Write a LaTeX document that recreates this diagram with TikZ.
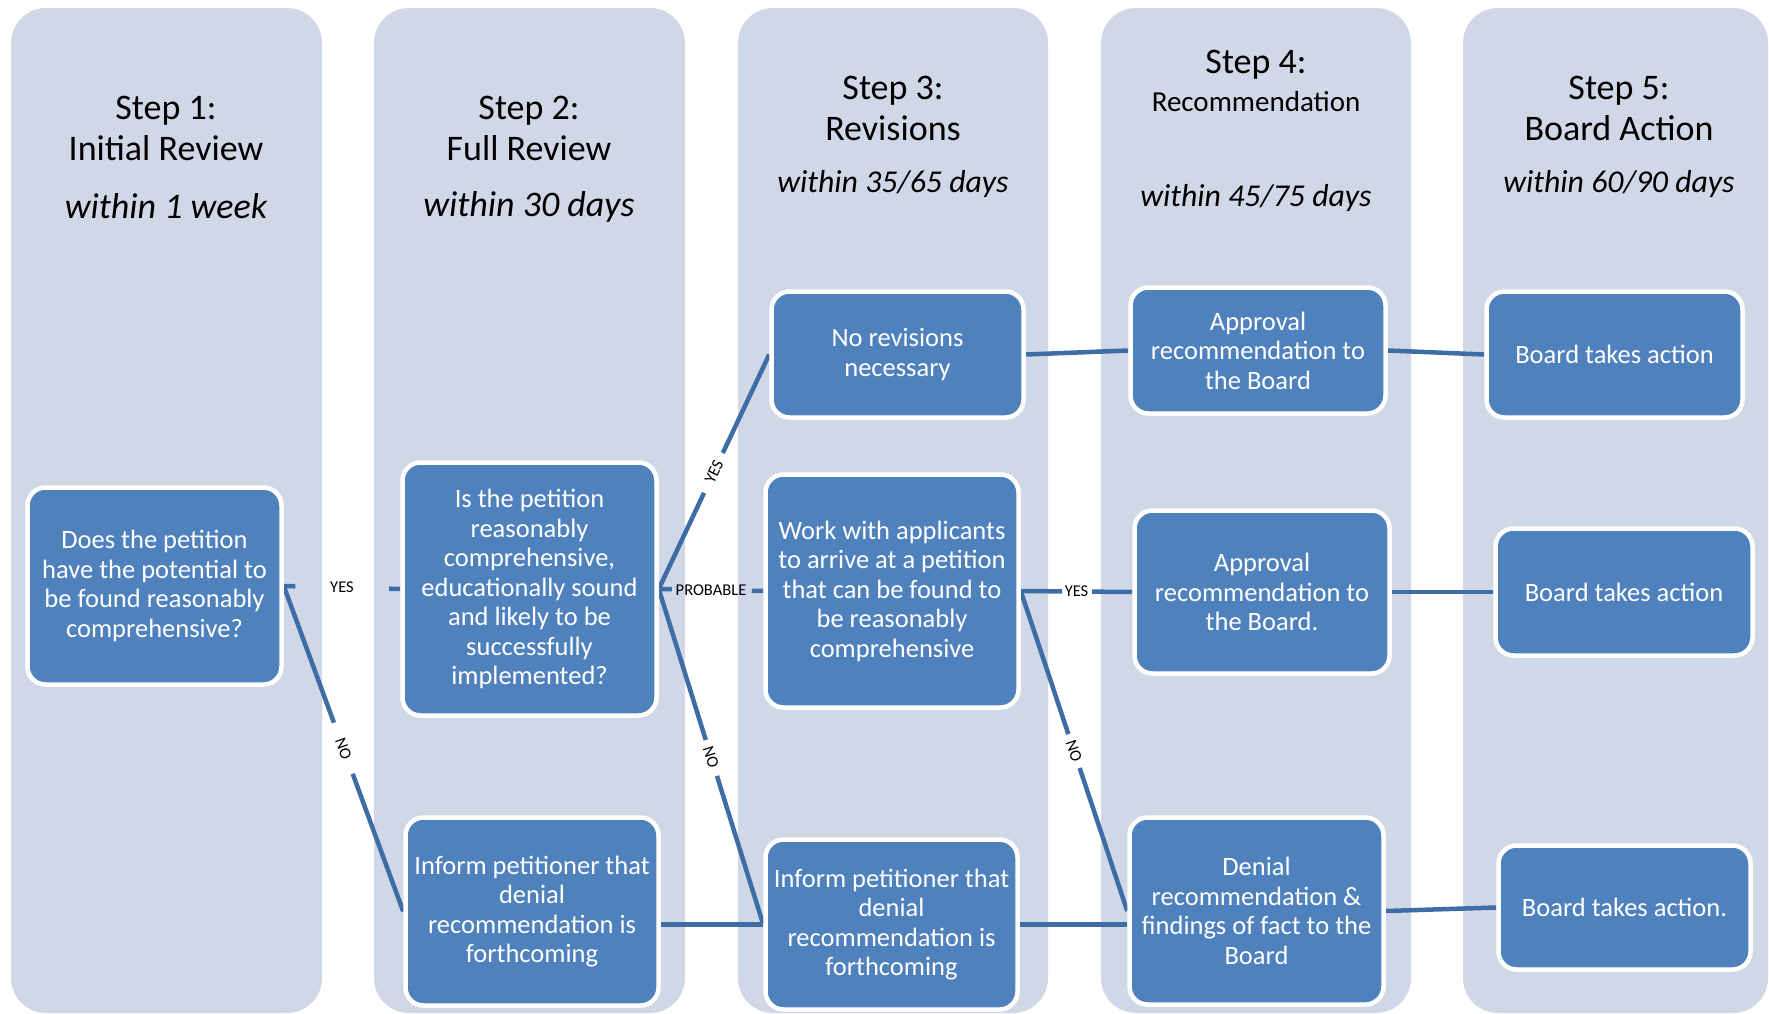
\documentclass[tikz,border=0pt]{standalone}
\usepackage{fontspec}
\setmainfont{Carlito}
\usetikzlibrary{calc}
\definecolor{colbg}{HTML}{D0D8E8}
\definecolor{boxblue}{HTML}{4F81BD}
\definecolor{linkblue}{HTML}{3E6CA5}
\pgfdeclarelayer{cols}
\pgfdeclarelayer{links}
\pgfsetlayers{cols,links,main}
\begin{document}
\begin{tikzpicture}[x=1pt,y=-1pt,
  column/.style={fill=colbg, rounded corners=35pt},
  stage/.style={rectangle, rounded corners=18pt, fill=boxblue, draw=white,
    line width=4.5pt, text=white, align=center, inner sep=0pt,
    font=\fontsize{26.5}{29.5}\selectfont},
  head/.style={align=center, inner sep=0pt, font=\fontsize{36}{41}\selectfont},
  due/.style={inner sep=0pt, font=\fontsize{36}{41}\selectfont\itshape},
  duesmall/.style={inner sep=0pt, font=\fontsize{31.8}{36}\selectfont\itshape},
  link/.style={draw=linkblue, line width=4.5pt},
  tag/.style={inner sep=1pt, font=\fontsize{16.5}{18}\selectfont}]

\useasboundingbox (0,0) rectangle (1769,1014);

% stage columns
\begin{pgfonlayer}{cols}
  \fill[column] (11,8) rectangle (322,1013);
  \fill[column] (374,8) rectangle (685,1013);
  \fill[column] (738,8) rectangle (1048,1013);
  \fill[column] (1101,8) rectangle (1411,1013);
  \fill[column] (1463,8) rectangle (1768,1013);
\end{pgfonlayer}

% column headings
\node[head] (h1) at (166,128) {Step 1:\\Initial Review};
\node[due]  (d1) at (166,206) {within 1 week};
\node[head] (h2) at (529,128) {Step 2:\\Full Review};
\node[due]  (d2) at (529,207) {within 30 days};
\node[head] (h3) at (893,108) {Step 3:\\Revisions};
\node[duesmall] (d3) at (893,184) {within 35/65 days};
\node[head] (h4) at (1256,65) {Step 4:};
\node[inner sep=0pt, font=\fontsize{29}{33}\selectfont] (r4) at (1256,102) {Recommendation};
\node[duesmall] (d4) at (1256,198) {within 45/75 days};
\node[head] (h5) at (1619,108) {Step 5:\\Board Action};
\node[duesmall] (d5) at (1619,184) {within 60/90 days};

% process boxes
\node[stage, minimum width=254, minimum height=197] (b1) at (154.5,586)
  {Does the petition\\have the potential to\\be found reasonably\\comprehensive?};
\node[stage, minimum width=254, minimum height=253] (b2) at (529.5,589)
  {Is the petition\\reasonably\\comprehensive,\\educationally sound\\and likely to be\\successfully\\implemented?};
\node[stage, minimum width=253, minimum height=188] (b3) at (532,911.5)
  {Inform petitioner that\\denial\\recommendation is\\forthcoming};
\node[stage, minimum width=252, minimum height=126] (b4) at (897.5,354.5)
  {No revisions\\necessary};
\node[stage, minimum width=253, minimum height=233] (b5) at (892,591)
  {Work with applicants\\to arrive at a petition\\that can be found to\\be reasonably\\comprehensive};
\node[stage, minimum width=252, minimum height=170] (b6) at (891.5,924.5)
  {Inform petitioner that\\denial\\recommendation is\\forthcoming};
\node[stage, minimum width=255, minimum height=126] (b7) at (1258,350.5)
  {Approval\\recommendation to\\the Board};
\node[stage, minimum width=255, minimum height=163] (b8) at (1262,592)
  {Approval\\recommendation to\\the Board.};
\node[stage, minimum width=254, minimum height=187] (b9) at (1256.5,911)
  {Denial\\recommendation \&\\findings of fact to the\\Board};
\node[stage, minimum width=256, minimum height=126] (b10) at (1614.5,354.5)
  {Board takes action};
\node[stage, minimum width=257, minimum height=127] (b11) at (1624,592)
  {Board takes action};
\node[stage, minimum width=252, minimum height=124] (b12) at (1624.5,907.5)
  {Board takes action.};

% connector labels and the gaps they leave in the lines
\path (b1.east) -- (b2.west) coordinate[pos=0.10] (a1) coordinate[pos=0.905] (a2)
  node[tag, pos=0.5] (t1) {YES};
\path (b1.east) -- (b3.west) coordinate[pos=0.42] (c1) coordinate[pos=0.577] (c2)
  node[tag, sloped, pos=0.5] (t2) {NO};
\path (b2.east) -- (b4.west) coordinate[pos=0.41] (e1) coordinate[pos=0.58] (e2)
  node[tag, sloped, pos=0.5] (t3) {YES};
\path (b2.east) -- (b5.west) coordinate[pos=0.125] (f1) coordinate[pos=0.89] (f2)
  node[tag, pos=0.5] (t4) {PROBABLE};
\path (b2.east) -- (b6.west) coordinate[pos=0.45] (g1) coordinate[pos=0.557] (g2)
  node[tag, sloped, pos=0.5] (t5) {NO};
\path (b5.east) -- (b8.west) coordinate[pos=0.37] (k1) coordinate[pos=0.64] (k2)
  node[tag, pos=0.5] (t6) {YES};
\path (b5.east) -- (b9.west) coordinate[pos=0.447] (m1) coordinate[pos=0.553] (m2)
  node[tag, sloped, pos=0.5] (t7) {NO};

% connectors
\begin{pgfonlayer}{links}
  \draw[link] (b1.east) -- (a1);  \draw[link] (a2) -- (b2.west);
  \draw[link] (b1.east) -- (c1);  \draw[link] (c2) -- (b3.west);
  \draw[link] (b2.east) -- (e1);  \draw[link] (e2) -- (b4.west);
  \draw[link] (b2.east) -- (f1);  \draw[link] (f2) -- (b5.west);
  \draw[link] (b2.east) -- (g1);  \draw[link] (g2) -- (b6.west);
  \draw[link] (b5.east) -- (k1);  \draw[link] (k2) -- (b8.west);
  \draw[link] (b5.east) -- (m1);  \draw[link] (m2) -- (b9.west);
  \draw[link] (b3.east |- b6.west) -- (b6.west);
  \draw[link] (b6.east) -- (b6.east -| b9.west);
  \draw[link] (b4.east) -- (b7.west);
  \draw[link] (b7.east) -- (b10.west);
  \draw[link] (b8.east) -- (b11.west);
  \draw[link] (b9.east) -- (b12.west);
\end{pgfonlayer}
\end{tikzpicture}
\end{document}
